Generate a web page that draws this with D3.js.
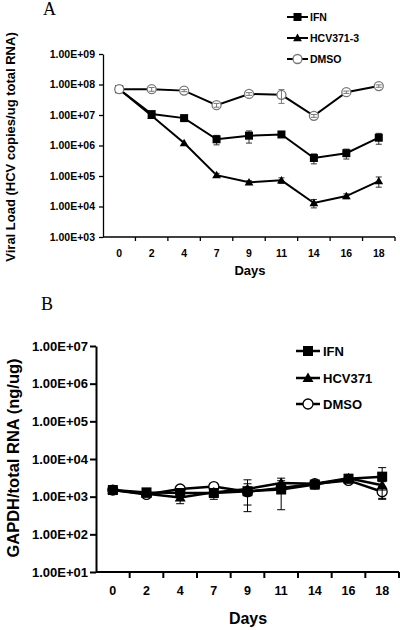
<!DOCTYPE html>
<html><head><meta charset="utf-8">
<script src="https://cdn.jsdelivr.net/npm/d3@7"></script>
<style>body{margin:0;background:#fff}svg{display:block}text{font-family:"Liberation Sans",Arial,sans-serif;font-weight:bold}</style>
</head><body>
<script>
const days = ["0","2","4","7","9","11","14","16","18"];
const seriesNamesA = ["IFN","HCV371-3","DMSO"];
const seriesNamesB = ["IFN","HCV371","DMSO"];
const yTicksA = [1e3,1e4,1e5,1e6,1e7,1e8,1e9];
const yTicksB = [1e1,1e2,1e3,1e4,1e5,1e6,1e7];

const ifnA = [7e7, 1.07e7, 7.9e6, 1.6e6, 2.1e6, 2.3e6, 3.9e5, 5.6e5, 1.8e6];
const ifnAsd = [0, 0, 0, 5.5e5, 9e5, 2e5, 1.4e5, 2e5, 7e5];
const hcvA = [7e7, 9.5e6, 1.2e6, 1.07e5, 6.2e4, 7.2e4, 1.3e4, 2.2e4, 6.8e4];
const hcvAsd = [0, 0, 0, 1.5e4, 8e3, 1.5e4, 4e3, 4e3, 2.5e4];
const dmsoA = [7e7, 7e7, 6.3e7, 2.1e7, 4.9e7, 4.6e7, 9.4e6, 5.6e7, 8.9e7];
const dmsoAsd = [0, 1e7, 5e6, 3e6, 5e6, 2.2e7, 1e6, 5e6, 8e6];

const ifnB = [1.5e3, 1.3e3, 1.25e3, 1.25e3, 1.4e3, 1.55e3, 2.1e3, 3.0e3, 3.4e3];
const ifnBsd = [200, 300, 300, 400, 800, 1100, 500, 600, 2500];
const hcvB = [1.5e3, 1.2e3, 0.95e3, 1.3e3, 1.6e3, 2.3e3, 2.2e3, 3.1e3, 2.0e3];
const hcvBsd = [100, 200, 300, 200, 1200, 800, 400, 800, 500];
const dmsoB = [1.5e3, 1.15e3, 1.6e3, 1.85e3, 1.35e3, 1.7e3, 2.2e3, 2.7e3, 1.35e3];
const dmsoBsd = [100, 200, 200, 200, 300, 300, 300, 400, 500];

const fmt = d => "1.00E+" + String(Math.round(Math.log10(d))).padStart(2,"0");

const svg = d3.select("body").append("svg").attr("width",400).attr("height",630);

function marker(sel, type, X, Y, m, col){
  if(type==="sq") sel.append("rect").attr("x",X-m/2).attr("y",Y-m/2).attr("width",m).attr("height",m).attr("fill","#000");
  else if(type==="tri") sel.append("path").attr("d",`M${X},${Y-m*0.55}L${X+m*0.55},${Y+m*0.4}L${X-m*0.55},${Y+m*0.4}Z`).attr("fill","#000");
  else sel.append("circle").attr("cx",X).attr("cy",Y).attr("r",m/2).attr("fill","#fff").attr("stroke",col).attr("stroke-width",1.3);
}

function panel(cfg){
  const g = svg.append("g");
  const x = d3.scaleBand().domain(days).range([cfg.x0,cfg.x1]);
  const y = d3.scaleLog().domain(cfg.ydom).range([cfg.y0,cfg.y1]);
  const ya = g.append("g").attr("transform",`translate(${cfg.x0},0)`)
    .call(d3.axisLeft(y).tickValues(cfg.yticks).tickFormat(fmt).tickSize(cfg.tick).tickPadding(cfg.pad).tickSizeOuter(0));
  ya.selectAll("path,line").attr("stroke","#000").attr("stroke-width",cfg.aw);
  ya.selectAll("text").attr("font-size",cfg.tf).attr("font-family","Liberation Sans, Arial").attr("font-weight","bold").attr("fill","#000");
  g.append("line").attr("x1",cfg.x0).attr("x2",cfg.x1).attr("y1",cfg.y0).attr("y2",cfg.y0).attr("stroke","#000").attr("stroke-width",cfg.aw);
  const bounds = days.map(d=>x(d)+x.bandwidth());
  g.selectAll(".xt").data(bounds).join("line").attr("x1",d=>d).attr("x2",d=>d)
    .attr("y1",cfg.y0).attr("y2",cfg.y0+cfg.tick).attr("stroke","#000").attr("stroke-width",cfg.aw);
  g.selectAll(".xl").data(days).join("text").attr("x",d=>x(d)+x.bandwidth()/2).attr("y",cfg.xly)
    .attr("text-anchor","middle").attr("font-size",cfg.xf).text(d=>d);
  g.append("text").attr("x",cfg.daysX).attr("y",cfg.daysY).attr("text-anchor","middle").attr("font-size",cfg.df).text("Days");
  g.append("text").attr("transform",`translate(${cfg.titX},${cfg.titY}) rotate(-90)`).attr("text-anchor","middle")
    .attr("font-size",cfg.titF).text(cfg.title);
  g.append("text").attr("x",cfg.letX).attr("y",cfg.letY)
    .style("font-family","'Liberation Serif',serif").style("font-weight","normal").attr("font-size",18).text(cfg.letter);

  const cx = d => x(d)+x.bandwidth()/2;
  const series = cfg.series;
  const line = d3.line().x((v,i)=>cx(days[i])).y(v=>y(v));
  series.forEach(s=>{
    g.append("path").attr("d",line(s.v)).attr("fill","none").attr("stroke","#000").attr("stroke-width",cfg.lw);
  });
  function errs(s){
    const eg = g.append("g").attr("stroke",s.ecol).attr("stroke-width",1);
    s.v.forEach((v,i)=>{
      const sd = s.sd[i]; if(!sd) return;
      const hi = y(v+sd), lo = y(Math.max(v-sd, v*0.05));
      const X = cx(days[i]);
      eg.append("line").attr("x1",X).attr("x2",X).attr("y1",hi).attr("y2",lo);
      eg.append("line").attr("x1",X-cfg.cap).attr("x2",X+cfg.cap).attr("y1",hi).attr("y2",hi);
      eg.append("line").attr("x1",X-cfg.cap).attr("x2",X+cfg.cap).attr("y1",lo).attr("y2",lo);
    });
  }
  series.forEach(s=>{
    if(!s.errTop) errs(s);
    s.v.forEach((v,i)=>marker(g, s.type, cx(days[i]), y(v), s.m, s.col));
    if(s.errTop) errs(s);
  });
  const legendSeries = cfg.legendOrder.map(n=>series.find(s=>s.name===n));
  legendSeries.forEach((s,i)=>{
    const Y = cfg.legY[i];
    g.append("line").attr("x1",cfg.legX0).attr("x2",cfg.legX1).attr("y1",Y).attr("y2",Y).attr("stroke","#000").attr("stroke-width",cfg.lw);
    marker(g, s.type, (cfg.legX0+cfg.legX1)/2, Y, s.m, s.col);
    g.append("text").attr("x",cfg.legT).attr("y",Y+cfg.legF*0.36).attr("font-size",cfg.legF).text(s.name);
  });
}

panel({
  x0:103, x1:395, y0:237, y1:54, ydom:[1e3,1e9], yticks:yTicksA, tick:4, pad:4, aw:1.3, tf:10.5,
  xly:257, xf:10.5, daysX:250, daysY:275, df:13, titX:15, titY:147, titF:13,
  title:"Viral Load (HCV copies/ug total RNA)", letter:"A", letX:43, letY:15, lw:2, cap:3,
  legX0:287, legX1:308, legT:310, legF:10.5, legY:[17,38,59], legendOrder:seriesNamesA,
  series:[
    {name:seriesNamesA[0], v:ifnA, sd:ifnAsd, type:"sq", m:8, col:"#000", ecol:"#333"},
    {name:seriesNamesA[1], v:hcvA, sd:hcvAsd, type:"tri", m:8, col:"#000", ecol:"#333"},
    {name:seriesNamesA[2], v:dmsoA, sd:dmsoAsd, type:"circ", m:9, col:"#777", ecol:"#777", errTop:true}
  ]
});

panel({
  x0:96, x1:399, y0:572, y1:346, ydom:[1e1,1e7], yticks:yTicksB, tick:6, pad:2, aw:2, tf:13,
  xly:595, xf:12.5, daysX:248, daysY:624, df:16, titX:19, titY:458, titF:16.5,
  title:"GAPDH/total RNA (ng/ug)", letter:"B", letX:41, letY:310, lw:2.5, cap:4,
  legX0:296, legX1:320, legT:323, legF:13, legY:[351,378,404], legendOrder:seriesNamesB,
  series:[
    {name:seriesNamesB[2], v:dmsoB, sd:dmsoBsd, type:"circ", m:10, col:"#000", ecol:"#000"},
    {name:seriesNamesB[1], v:hcvB, sd:hcvBsd, type:"tri", m:10, col:"#000", ecol:"#000"},
    {name:seriesNamesB[0], v:ifnB, sd:ifnBsd, type:"sq", m:10, col:"#000", ecol:"#000"}
  ]
});
</script>
</body></html>
